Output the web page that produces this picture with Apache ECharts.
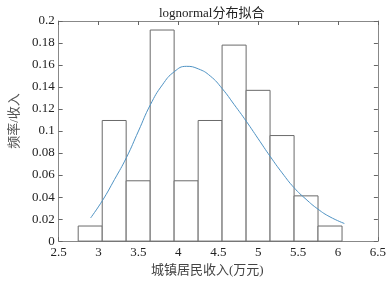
<!DOCTYPE html>
<html>
<head>
<meta charset="utf-8">
<script src="https://cdn.jsdelivr.net/npm/echarts@6/dist/echarts.min.js"></script>
<style>html,body{margin:0;padding:0;background:#fff;}#c{width:389px;height:282px;}</style>
</head>
<body>
<div id="c"></div>
<script>
// Histogram bin edges (万元) and relative frequencies
var binEdges = [2.745, 3.046, 3.346, 3.647, 3.947, 4.248, 4.548, 4.849, 5.149, 5.450, 5.750, 6.051];
var binFreq = [0.0137, 0.1096, 0.0548, 0.1918, 0.0548, 0.1096, 0.1781, 0.1370, 0.0959, 0.0411, 0.0137];
// Fitted lognormal curve points
var curveX = [2.90, 3.05, 3.20, 3.35, 3.50, 3.65, 3.80, 3.95, 4.10, 4.25, 4.40, 4.55, 4.70, 4.85, 5.00, 5.15, 5.30, 5.45, 5.60, 5.75, 5.90, 6.08];
var curveY = [0.021, 0.037, 0.056, 0.076, 0.100, 0.124, 0.142, 0.154, 0.1588, 0.1565, 0.150, 0.1385, 0.124, 0.109, 0.093, 0.077, 0.062, 0.0485, 0.038, 0.029, 0.022, 0.016];
var xTicks = [2.5, 3, 3.5, 4, 4.5, 5, 5.5, 6, 6.5];
var yTicks = [0, 0.02, 0.04, 0.06, 0.08, 0.1, 0.12, 0.14, 0.16, 0.18, 0.2];

var titleText = 'lognormal分布拟合';
var xName = '城镇居民收入(万元)';
var yName = '频率/收入';

var barData = binFreq.map(function (f, i) { return [binEdges[i], binEdges[i + 1], f]; });
var curveData = curveX.map(function (x, i) { return [x, curveY[i]]; });

var font = '"Liberation Serif","Times New Roman","Noto Sans CJK SC",serif';
var axisCol = '#888';
var chart = echarts.init(document.getElementById('c'), null, {renderer: 'canvas'});
var commonX = {
  type: 'value', min: xTicks[0], max: xTicks[xTicks.length - 1], interval: 0.5,
  axisLine: {show: true, onZero: false, lineStyle: {color: axisCol, width: 1}},
  axisTick: {show: true, inside: true, length: 4, lineStyle: {color: '#666'}},
  splitLine: {show: false}
};
var commonY = {
  type: 'value', min: yTicks[0], max: yTicks[yTicks.length - 1], interval: 0.02,
  axisLine: {show: true, onZero: false, lineStyle: {color: axisCol, width: 1}},
  axisTick: {show: true, inside: true, length: 4, lineStyle: {color: '#666'}},
  splitLine: {show: false}
};
chart.setOption({
  animation: false,
  backgroundColor: '#fff',
  title: {
    text: titleText, left: 154, top: 2,
    textStyle: {fontFamily: font, fontSize: 13, fontWeight: 'normal', color: '#222'}
  },
  grid: {left: 49, right: 11, top: 21, bottom: 36},
  xAxis: [
    Object.assign({}, commonX, {
      position: 'bottom',
      name: xName, nameLocation: 'middle', nameGap: 19,
      nameTextStyle: {fontFamily: font, fontSize: 13, color: '#444', padding: [0, 22, 0, 0]},
      axisLabel: {show: true, margin: 5, fontFamily: font, fontSize: 13, color: '#222',
        formatter: function (v) { return String(v); }}
    }),
    Object.assign({}, commonX, {position: 'top', axisLabel: {show: false}})
  ],
  yAxis: [
    Object.assign({}, commonY, {
      position: 'left',
      name: yName, nameLocation: 'middle', nameGap: 34, nameRotate: 90,
      nameTextStyle: {fontFamily: font, fontSize: 13, color: '#555', padding: [0, 0, 0, 20]},
      axisLabel: {show: true, margin: 4, fontFamily: font, fontSize: 13, color: '#222',
        formatter: function (v) { return String(Math.round(v * 100) / 100); }}
    }),
    Object.assign({}, commonY, {position: 'right', axisLabel: {show: false}})
  ],
  series: [
    {
      type: 'custom', xAxisIndex: 0, yAxisIndex: 0,
      data: barData,
      renderItem: function (params, api) {
        var p0 = api.coord([api.value(0), 0]);
        var p1 = api.coord([api.value(1), api.value(2)]);
        return {
          type: 'rect',
          shape: {x: p0[0], y: p1[1], width: p1[0] - p0[0], height: p0[1] - p1[1]},
          style: {fill: '#fff', stroke: '#6a6a6a', lineWidth: 1}
        };
      },
      z: 2
    },
    {
      type: 'line', xAxisIndex: 0, yAxisIndex: 0,
      data: curveData, smooth: true, showSymbol: false, symbol: 'none',
      lineStyle: {color: '#4f93c4', width: 1},
      z: 3
    }
  ]
});
</script>
</body>
</html>
